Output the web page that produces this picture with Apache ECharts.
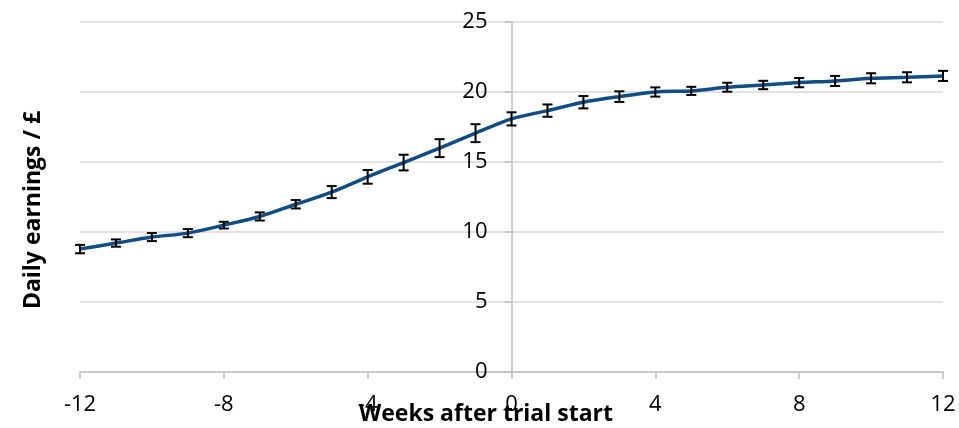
<!DOCTYPE html>
<html>
<head>
<meta charset="utf-8">
<script src="https://cdn.jsdelivr.net/npm/echarts@6/dist/echarts.min.js"></script>
<style>
  html, body { margin: 0; padding: 0; background: #fff; }
  #chart { width: 959px; height: 428px; }
</style>
</head>
<body>
<div id="chart"></div>
<script>
// Weeks relative to the start of the trial
const weeks = [-12, -11, -10, -9, -8, -7, -6, -5, -4, -3, -2, -1, 0, 1, 2, 3, 4, 5, 6, 7, 8, 9, 10, 11, 12];
// Mean daily earnings (£)
const earnings = [8.78, 9.21, 9.64, 9.92, 10.49, 11.11, 11.98, 12.85, 13.94, 14.96, 15.99, 17.06, 18.08,
                  18.67, 19.27, 19.67, 20.0, 20.08, 20.34, 20.5, 20.67, 20.79, 20.98, 21.05, 21.15];
// Half-width of the error bar around each mean (£)
const errors = [0.3, 0.26, 0.29, 0.29, 0.24, 0.29, 0.3, 0.43, 0.49, 0.56, 0.64, 0.64, 0.47,
                0.44, 0.44, 0.38, 0.33, 0.29, 0.32, 0.3, 0.33, 0.36, 0.36, 0.36, 0.36];
// Axis tick settings
const xTicks = { min: -12, max: 12, interval: 4 };
const yTicks = { min: 0, max: 25, interval: 5 };

const lineData = weeks.map((w, i) => [w, earnings[i]]);
const barData = weeks.map((w, i) => [w, earnings[i] - errors[i], earnings[i] + errors[i]]);

const font = '"Open Sans", "Liberation Sans", sans-serif';
const axisGrey = '#bfbfbf';
const gridLeft = 80, gridRight = 16;
const plotWidth = 959 - gridLeft - gridRight;
// shift the value axis so it sits on week 0
const yAxisShift = -plotWidth * (0 - xTicks.min) / (xTicks.max - xTicks.min);

const chart = echarts.init(document.getElementById('chart'), null, { renderer: 'canvas' });
chart.setOption({
  animation: false,
  backgroundColor: '#ffffff',
  grid: { left: gridLeft, right: gridRight, top: 22, bottom: 56, containLabel: false, outerBoundsMode: 'none' },
  xAxis: {
    type: 'value',
    min: xTicks.min, max: xTicks.max, interval: xTicks.interval,
    axisLine: { onZero: false, lineStyle: { color: axisGrey, width: 1.5 } },
    axisTick: { show: true, length: 7, lineStyle: { color: axisGrey, width: 1.5 } },
    axisLabel: { fontFamily: font, fontSize: 22, color: '#000', margin: 22, hideOverlap: false },
    splitLine: { show: false }
  },
  yAxis: {
    type: 'value',
    min: yTicks.min, max: yTicks.max, interval: yTicks.interval,
    offset: yAxisShift,
    axisLine: { show: true, onZero: false, lineStyle: { color: axisGrey, width: 1.5 } },
    axisTick: { show: true, length: 7, lineStyle: { color: axisGrey, width: 1.5 } },
    axisLabel: { fontFamily: font, fontSize: 22, color: '#000', margin: 24 },
    splitLine: { show: true, lineStyle: { color: '#d9d9d9', width: 1.5 } }
  },
  graphic: [
    {
      type: 'text',
      rotation: Math.PI / 2,
      x: 33, y: 210,
      z: 10,
      style: {
        text: 'Daily earnings / £',
        font: 'bold 23px ' + font,
        fill: '#000',
        textAlign: 'center',
        textVerticalAlign: 'middle'
      }
    },
    {
      type: 'text',
      x: 486, y: 414,
      z: 10,
      style: {
        text: 'Weeks after trial start',
        font: 'bold 23px ' + font,
        fill: '#000',
        textAlign: 'center',
        textVerticalAlign: 'middle'
      }
    }
  ],
  series: [
    {
      type: 'line',
      data: lineData,
      smooth: 0.3,
      symbol: 'none',
      lineStyle: { color: '#114c84', width: 3.5 },
      z: 2
    },
    {
      type: 'custom',
      data: barData,
      z: 3,
      renderItem: function (params, api) {
        const x = api.value(0);
        const lo = api.coord([x, api.value(1)]);
        const hi = api.coord([x, api.value(2)]);
        const cap = 5;
        const style = { stroke: '#000', lineWidth: 2 };
        return {
          type: 'group',
          children: [
            { type: 'line', shape: { x1: lo[0], y1: lo[1], x2: hi[0], y2: hi[1] }, style: style },
            { type: 'line', shape: { x1: lo[0] - cap, y1: lo[1], x2: lo[0] + cap, y2: lo[1] }, style: style },
            { type: 'line', shape: { x1: hi[0] - cap, y1: hi[1], x2: hi[0] + cap, y2: hi[1] }, style: style }
          ]
        };
      }
    }
  ]
});
</script>
</body>
</html>
